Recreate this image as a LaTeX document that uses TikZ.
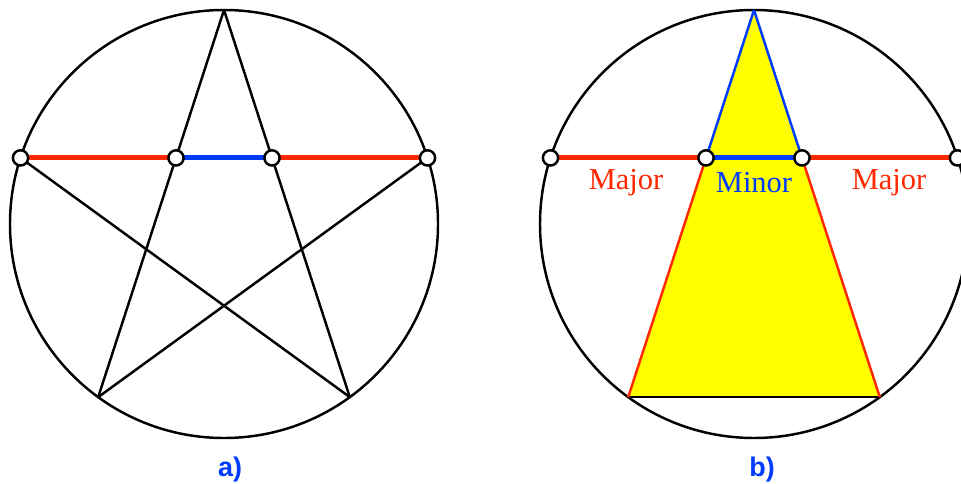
\documentclass[tikz,border=0pt]{standalone}
\usepackage{fontspec}
\setmainfont{Liberation Serif}
\newfontfamily\labfont{Liberation Sans}
\usetikzlibrary{positioning}
\definecolor{majred}{RGB}{255,40,0}
\definecolor{minblue}{RGB}{0,60,255}
\definecolor{tri}{RGB}{255,255,0}
\tikzstyle{outline}=[line width=2.1pt,black]
\tikzstyle{seg}=[line width=4.2pt,line cap=butt]
\tikzstyle{side}=[line width=2.1pt]
\tikzstyle{dot}=[circle,draw,fill=white,line width=2.1pt,inner sep=0pt,minimum size=13pt]
\tikzstyle{word}=[font=\fontsize{26}{28}\selectfont]
\tikzstyle{tag}=[font=\labfont\bfseries\fontsize{23}{25}\selectfont,text=minblue]

\begin{document}
\begin{tikzpicture}[x=0.03cm,y=-0.03cm]
\clip (0,0) rectangle (961,484);
\fill[white] (0,0) rectangle (961,484);
% a) pentagram
\coordinate (ca) at (224,224);
\coordinate (ltop) at (224,10);
\coordinate (lbl) at (98.2,397.1);
\coordinate (lbr) at (349.8,397.1);
\coordinate (l1) at (20.5,157.9);
\coordinate (l2) at (176,157.9);
\coordinate (l3) at (272,157.9);
\coordinate (l4) at (427.5,157.9);
\draw[outline] (ca) circle (6.42cm);
\draw[outline] (ltop) -- (lbl);
\draw[outline] (ltop) -- (lbr);
\draw[outline] (l1) -- (lbr);
\draw[outline] (l4) -- (lbl);
\draw[seg,majred] (l1) -- (l2);
\draw[seg,minblue] (l2) -- (l3);
\draw[seg,majred] (l3) -- (l4);
\foreach \p in {l1,l2,l3,l4} \node[dot] at (\p) {};
\node[tag] (ta) at (230,470) {a)};
% b) triangle
\coordinate (cb) at (754,224);
\coordinate (rtop) at (754,10);
\coordinate (rbl) at (628.2,397.1);
\coordinate (rbr) at (879.8,397.1);
\coordinate (r1) at (550.5,157.9);
\coordinate (r2) at (706,157.9);
\coordinate (r3) at (802,157.9);
\coordinate (r4) at (957.5,157.9);
\fill[tri] (rtop) -- (rbl) -- (rbr) -- cycle;
\draw[outline] (cb) circle (6.42cm);
\draw[outline] (rbl) -- (rbr);
\draw[side,minblue] (rtop) -- (r2);
\draw[side,minblue] (rtop) -- (r3);
\draw[side,majred] (r2) -- (rbl);
\draw[side,majred] (r3) -- (rbr);
\draw[seg,majred] (r1) -- (r2);
\draw[seg,minblue] (r2) -- (r3);
\draw[seg,majred] (r3) -- (r4);
\foreach \p in {r1,r2,r3,r4} \node[dot] at (\p) {};
\node[word,text=majred] (m1) at (626,183) {Major};
\node[word,text=minblue] (m2) at (754,183) {Minor};
\node[word,text=majred] (m3) at (889,183) {Major};
\node[tag] (tb) at (762,470) {b)};
\end{tikzpicture}
\end{document}
